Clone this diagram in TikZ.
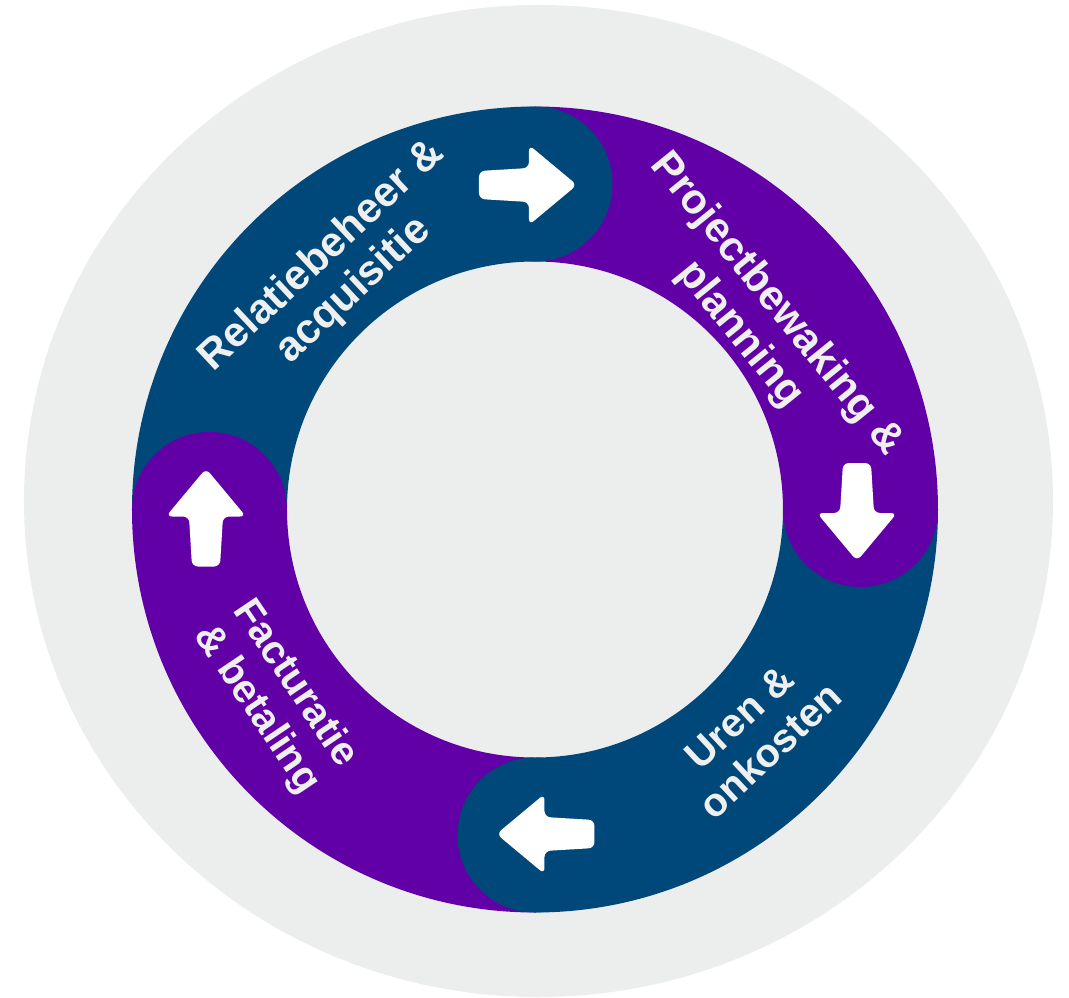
\documentclass[tikz,border=0pt]{standalone}
\usepackage{fontspec}
\setmainfont{Liberation Sans}
\usepackage{tikz}

\definecolor{ringblue}{HTML}{00487A}
\definecolor{ringpurple}{HTML}{6100A6}
\definecolor{bggray}{HTML}{ECEEEE}
\definecolor{labelgray}{HTML}{EEF0F0}

\tikzset{
  steplabel/.style={text=labelgray, font=\fontsize{40}{46}\selectfont\bfseries, align=center, inner sep=0pt},
  biglabel/.style={steplabel, font=\fontsize{42}{47}\selectfont\bfseries},
  blockarrow/.pic={
    \fill[white, rounded corners=6pt] (-49,14) -- (1,17) -- (1,40) -- (49,0) -- (1,-40) -- (1,-17) -- (-49,-14) -- cycle;
  }
}

\begin{document}
\begin{tikzpicture}[x=1pt, y=1pt]
  % Page and grey disc
  \useasboundingbox (-535,-487.5) rectangle (534,509.5);
  \fill[white] (-535,-487.5) rectangle (534,509.5);
  \fill[bggray] (3.5,8.5) ellipse [x radius=514.5, y radius=496];
  % Ring quarters
  \foreach \a/\c in {90/ringblue, 0/ringpurple, -90/ringblue, 180/ringpurple}
    \fill[\c] (\a:403) arc [start angle=\a, delta angle=90, radius=403]
      -- ({\a+90}:248) arc [start angle=\a+90, delta angle=-90, radius=248] -- cycle;
  % Round heads
  \foreach \a/\c in {90/ringblue, 0/ringpurple, -90/ringblue, 180/ringpurple}
    \fill[\c] (\a:325.5) circle [radius=77.5];
  % Arrows
  \pic at (-7,324.5) {blockarrow};
  \pic[rotate=-90] at (322,-2.5) {blockarrow};
  \pic[rotate=180] at (10.5,-324.5) {blockarrow};
  \pic[rotate=90] at (-329,-8) {blockarrow};
  % Labels
  \node[biglabel, rotate=43] (relatie) at (-197,236) {Relatiebeheer \&\\acquisitie};
  \node[biglabel, rotate=-51] (project) at (223,190) {Projectbewaking \&\\planning};
  \node[steplabel, rotate=43] (uren) at (-45.6:314) {Uren \&\\onkosten};
  \node[steplabel, rotate=-56] (factuur) at (215.8:320) {Facturatie\\\& betaling};
\end{tikzpicture}
\end{document}
